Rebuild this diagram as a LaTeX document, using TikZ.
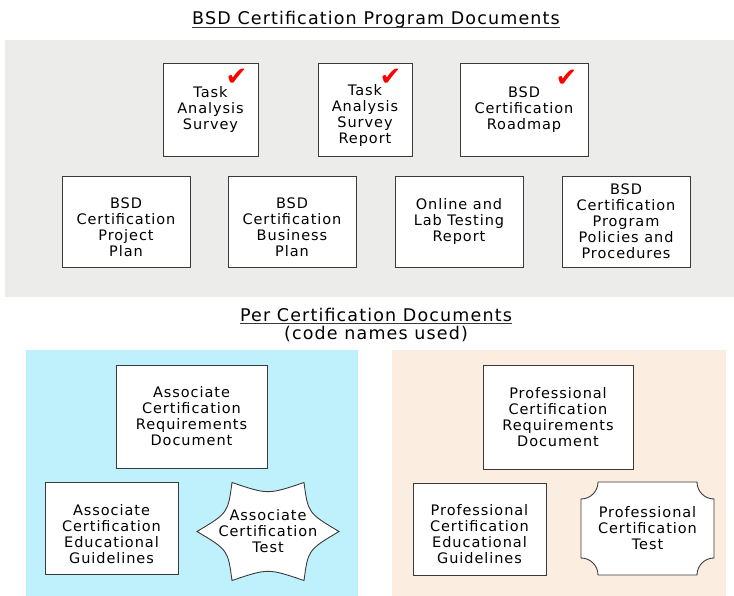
\documentclass[tikz,border=0pt]{standalone}
\usepackage{fontspec}
\setmainfont{DejaVu Sans}[LetterSpace=6.5]
\newfontfamily\tickfont{DejaVu Sans}
\usetikzlibrary{calc}
\definecolor{panelgrey}{HTML}{ECEDEA}
\definecolor{assocblue}{HTML}{BFF1FC}
\definecolor{profpeach}{HTML}{FCEDE1}
\definecolor{edgegrey}{HTML}{3A3A3A}
\begin{document}
\begin{tikzpicture}[x=1pt,y=-1pt]
	\tikzset{doc box/.style={draw=edgegrey,line width=0.9pt,fill=white,inner sep=0pt},
		doc text/.style={align=center,inner sep=0pt,font=\fontsize{14.5}{16}\selectfont},
		test edge/.style={draw=edgegrey,line width=0.9pt,fill=white},
		heading/.style={inner sep=0pt,anchor=base,font=\fontsize{17.5}{18}\selectfont},
		tick/.style={text=red,inner sep=0pt,font=\tickfont\fontsize{26}{26}\selectfont}}
	\useasboundingbox (0,0) rectangle (734,596);
	% panels
	\fill[panelgrey]	(5,40)		rectangle (734,297);
	\fill[assocblue]	(26,350)	rectangle (358,596);
	\fill[profpeach]	(392,350)	rectangle (726,596);
	% headings
	\node [heading] (progtitle)	at (376,25)		{BSD Certification Program Documents};
		\draw [edgegrey,line width=0.8pt]	([yshift=-2.5pt]progtitle.base west) -- ([yshift=-2.5pt]progtitle.base east);
	\node [heading] (pertitle)	at (376,321)	{Per Certification Documents};
		\draw [edgegrey,line width=0.8pt]	([yshift=-2.5pt]pertitle.base west) -- ([yshift=-2.5pt]pertitle.base east);
	\node [heading] (codenote)	at (376,339)	{(code names used)};
	% program documents
	\node [doc box,minimum width=95,minimum height=93]		(tas)		at (210.5,109.5)	{};
		\node [doc text]				(tastext)		at (tas)		{Task\\Analysis\\Survey};
	\node [doc box,minimum width=94,minimum height=93]		(tasr)		at (365,109.5)		{};
		\node [doc text,yshift=-6pt]	(tasrtext)		at (tasr)		{Task\\Analysis\\Survey\\Report};
	\node [doc box,minimum width=128,minimum height=93]		(roadmap)	at (524,109.5)		{};
		\node [doc text]				(roadmaptext)	at (roadmap)	{BSD\\Certification\\Roadmap};
		\node [tick] (tasok)		at ($(tas.north east)+(-22,15)$)		{✔};
		\node [tick] (tasrok)		at ($(tasr.north east)+(-22,15)$)		{✔};
		\node [tick] (roadmapok)	at ($(roadmap.north east)+(-22,16)$)	{✔};
	\node [doc box,minimum width=128,minimum height=91]		(projplan)	at (126,221.5)		{};
		\node [doc text,yshift=-6pt]	(projplantext)	at (projplan)	{BSD\\Certification\\Project\\Plan};
	\node [doc box,minimum width=128,minimum height=91]		(busplan)	at (292,221.5)		{};
		\node [doc text,yshift=-6pt]	(busplantext)	at (busplan)	{BSD\\Certification\\Business\\Plan};
	\node [doc box,minimum width=128,minimum height=91]		(labtest)	at (459,221.5)		{};
		\node [doc text]				(labtesttext)	at (labtest)	{Online and\\Lab Testing\\Report};
	\node [doc box,minimum width=128,minimum height=91]		(policies)	at (626,221.5)		{};
		\node [doc text]				(policiestext)	at (policies)	{BSD\\Certification\\Program\\Policies and\\Procedures};
	% associate documents
	\node [doc box,minimum width=151,minimum height=103]	(areq)		at (191.5,416.5)	{};
		\node [doc text]				(areqtext)		at (areq)		{Associate\\Certification\\Requirements\\Document};
	\node [doc box,minimum width=133,minimum height=92]		(aedu)		at (111.5,528)		{};
		\node [doc text,yshift=-6pt]	(aedutext)		at (aedu)		{Associate\\Certification\\Educational\\Guidelines};
	\coordinate (atestc) at (268,531.5);
	\begin{scope}[shift={(atestc)}]
		\draw [test edge] (-71,0) .. controls (-40.1,-18.4) .. (-36,-49) .. controls (0,-36.8) .. (36,-49)
			.. controls (40.1,-18.4) .. (71,0) .. controls (40.1,18.4) .. (36,49)
			.. controls (0,36.8) .. (-36,49) .. controls (-40.1,18.4) .. (-71,0) -- cycle;
	\end{scope}
	\node [doc text] (atest) at (atestc) {Associate\\Certification\\Test};
	% professional documents
	\node [doc box,minimum width=150,minimum height=104]	(preq)		at (558,417)		{};
		\node [doc text]				(preqtext)		at (preq)		{Professional\\Certification\\Requirements\\Document};
	\node [doc box,minimum width=133,minimum height=92]		(pedu)		at (479.5,529)		{};
		\node [doc text,yshift=-5pt]	(pedutext)		at (pedu)		{Professional\\Certification\\Educational\\Guidelines};
	\coordinate (ptestc) at (647.5,528.5);
	\begin{scope}[shift={(ptestc)}]
		\draw [test edge] (-66.5,-29.5) .. controls (-57.1,-29.5) and (-49.5,-37.1) .. (-49.5,-46.5) -- (49.5,-46.5)
			.. controls (49.5,-37.1) and (57.1,-29.5) .. (66.5,-29.5) -- (66.5,29.5)
			.. controls (57.1,29.5) and (49.5,37.1) .. (49.5,46.5) -- (-49.5,46.5)
			.. controls (-49.5,37.1) and (-57.1,29.5) .. (-66.5,29.5) -- cycle;
	\end{scope}
	\node [doc text] (ptest) at (ptestc) {Professional\\Certification\\Test};
\end{tikzpicture}
\end{document}
